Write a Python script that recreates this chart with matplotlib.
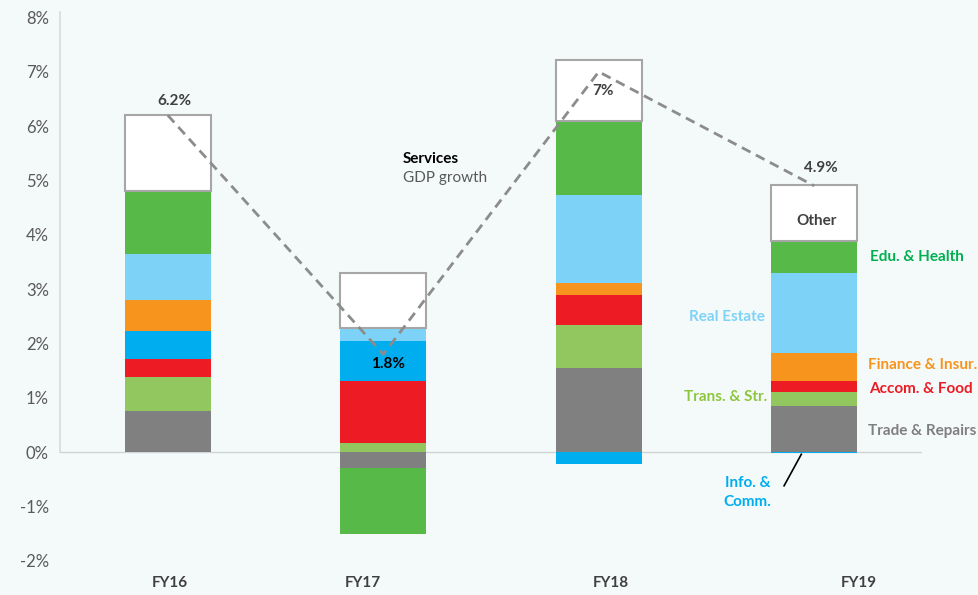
import matplotlib
matplotlib.use("Agg")
import matplotlib.pyplot as plt
import numpy as np

# Contribution to services GDP growth, percentage points
years = ["FY16", "FY17", "FY18", "FY19"]
trade = [0.76, -0.30, 1.55, 0.85]
trans = [0.63, 0.17, 0.79, 0.25]
accom = [0.33, 1.14, 0.55, 0.21]
info = [0.50, 0.74, -0.21, -0.02]
finance = [0.58, 0.00, 0.22, 0.52]
real_estate = [0.85, 0.23, 1.62, 1.47]
edu_health = [1.16, -1.20, 1.37, 0.59]
other = [1.39, 1.02, 1.11, 1.03]
gdp_growth = [6.2, 1.8, 7.0, 4.9]
growth_labels = ["6.2%", "1.8%", "7%", "4.9%"]

BG = "#f4f9f9"
series = [
    (trade, "#808080"),
    (trans, "#92c65e"),
    (accom, "#ed1c24"),
    (info, "#00aeef"),
    (finance, "#f7941d"),
    (real_estate, "#7dd3f7"),
    (edu_health, "#57b947"),
]

plt.rcParams["font.family"] = ["Lato", "DejaVu Sans"]

fig = plt.figure(figsize=(9.79, 5.95), dpi=100, facecolor=BG)
ax = fig.add_axes([60 / 979, 0, 862 / 979, 583 / 595])
ax.set_facecolor(BG)

x = np.arange(len(years))
width = 0.4
pos_bottom = np.zeros(len(years))
neg_bottom = np.zeros(len(years))
for values, color in series:
    v = np.array(values)
    bottom = np.where(v >= 0, pos_bottom, neg_bottom)
    ax.bar(x, v, width, bottom=bottom, color=color, edgecolor="none", zorder=2)
    pos_bottom += np.where(v >= 0, v, 0)
    neg_bottom += np.where(v < 0, v, 0)

# "Other" drawn as an outlined white box on top of the stack
ax.bar(x, other, width, bottom=pos_bottom, color="white",
       edgecolor="#a6a6a6", linewidth=1.5, zorder=2)

# services GDP growth line
ax.plot(x, gdp_growth, color="#8c8c8c", linewidth=2, linestyle=(0, (3.5, 2.2)), zorder=3)

ax.axhline(0, color="#d0d4d4", linewidth=1, zorder=1)

ax.set_xlim(-0.5, 3.5)
ax.set_ylim(-2.63, 8.1)
ax.set_yticks(range(-2, 9))
ax.set_yticklabels([f"{t}%" for t in range(-2, 9)])
ax.tick_params(axis="y", length=0, pad=8, labelsize=12, labelcolor="#595959")
ax.set_xticks([])
for side in ["top", "right", "bottom"]:
    ax.spines[side].set_visible(False)
ax.spines["left"].set_color("#d9d9d9")
ax.spines["left"].set_linewidth(1.2)
ax.spines["left"].set_bounds(0, 8.1)

# year labels
for xpos, name in zip([0.01, 0.905, 2.055, 3.205], years):
    ax.text(xpos, -2.41, name, ha="center", va="center", fontsize=11,
            fontweight="bold", color="#404040", clip_on=False)

# growth labels
offsets = [(0.03, 0.27), (0.02, -0.18), (0.02, -0.35), (0.03, 0.33)]
for i, (lab, (dx, dy)) in enumerate(zip(growth_labels, offsets)):
    ax.text(x[i] + dx, gdp_growth[i] + dy, lab, ha="center", va="center",
            fontsize=11, fontweight="bold",
            color="black" if i == 1 else "#404040", zorder=4)

ax.text(1.09, 5.40, "Services", ha="left", va="center", fontsize=11,
        fontweight="bold", color="black")
ax.text(1.09, 5.05, "GDP growth", ha="left", va="center", fontsize=11,
        color="#595959")
ax.text(3.01, 4.26, "Other", ha="center", va="center", fontsize=11,
        fontweight="bold", color="#404040", zorder=4)

# sector labels around the FY19 bar
lab_kw = dict(va="center", fontsize=11, fontweight="bold", clip_on=False)
ax.text(3.26, 3.59, "Edu. & Health", ha="left", color="#00b050", **lab_kw)
ax.text(2.77, 2.49, "Real Estate", ha="right", color="#7dd3f7", **lab_kw)
ax.text(3.25, 1.60, "Finance & Insur.", ha="left", color="#f7941d", **lab_kw)
ax.text(3.255, 1.155, "Accom. & Food", ha="left", color="#ed1c24", **lab_kw)
ax.text(2.78, 1.02, "Trans. & Str.", ha="right", color="#8dc63f", **lab_kw)
ax.text(3.25, 0.39, "Trade & Repairs", ha="left", color="#7f7f7f", **lab_kw)
ax.text(2.69, -0.74, "Info. &\nComm.", ha="center", color="#00aeef",
        linespacing=1.5, **lab_kw)
ax.plot([2.86, 2.94], [-0.62, -0.04], color="black", linewidth=1.2, zorder=4)

fig.savefig("out.png", dpi=100, facecolor=BG)
